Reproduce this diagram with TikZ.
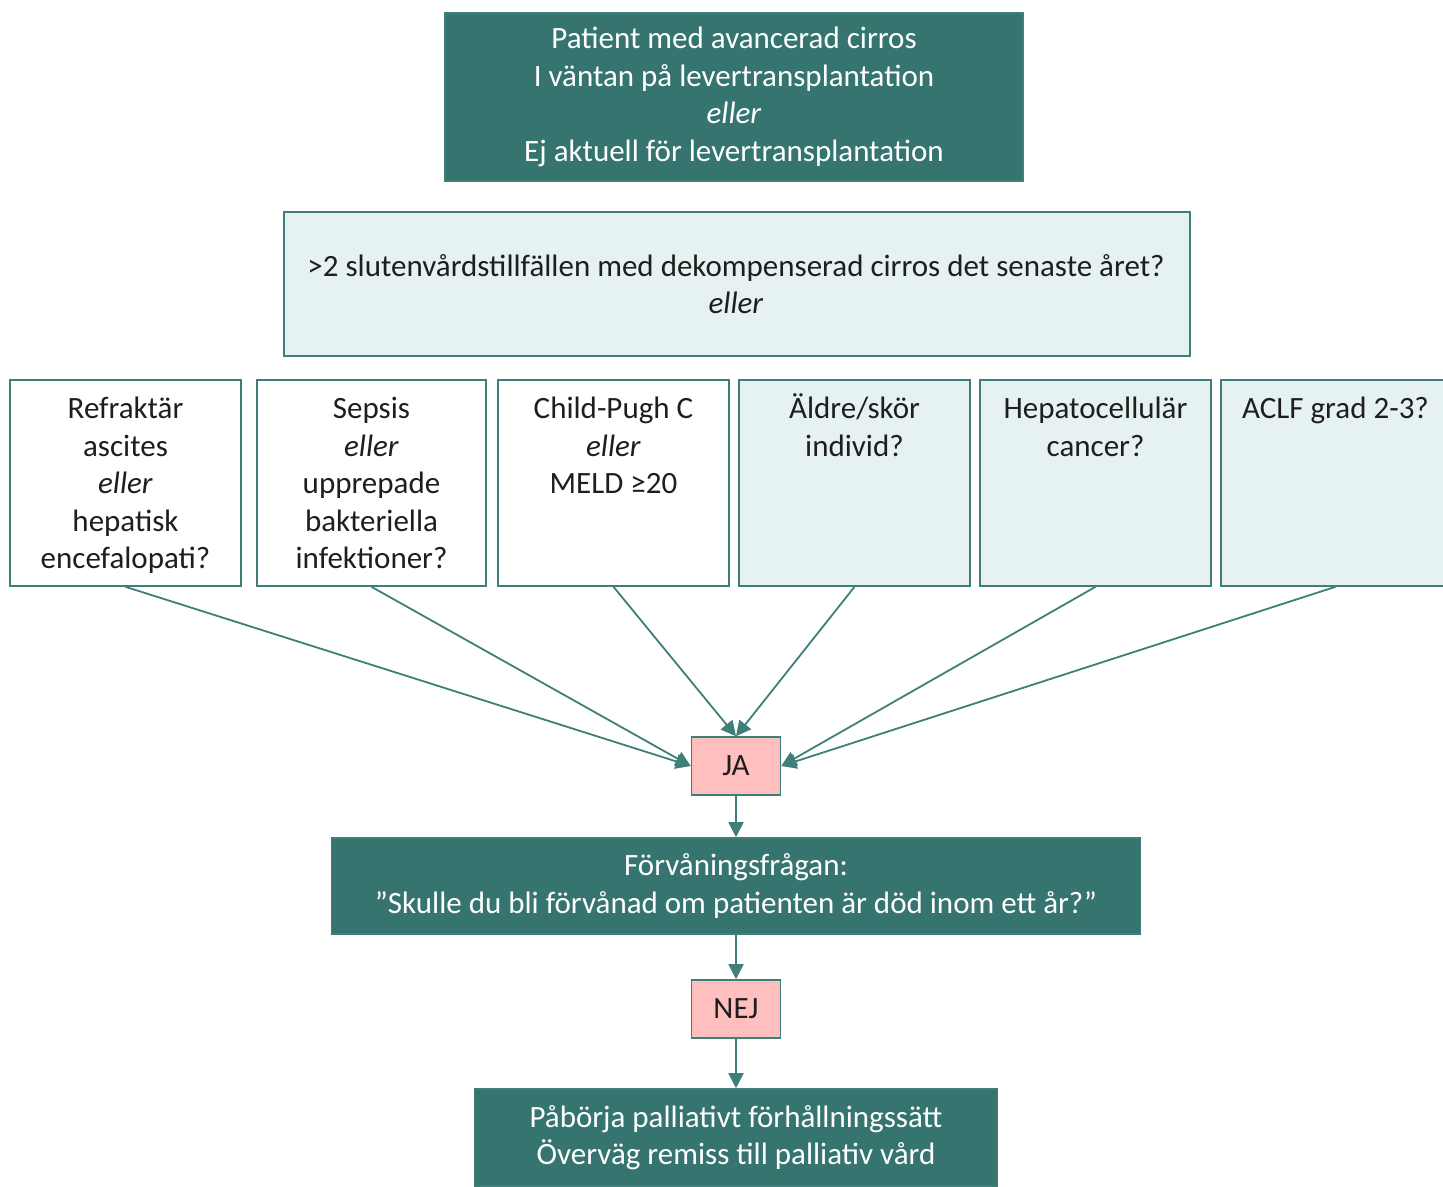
\documentclass[tikz,border=0pt]{standalone}
\usepackage{fontspec}
\setmainfont{Carlito}
\usetikzlibrary{arrows.meta}

\definecolor{darkteal}{HTML}{36756F}
\definecolor{edgeteal}{HTML}{3E7F79}
\definecolor{paleteal}{HTML}{E6F2F1}
\definecolor{answerpink}{HTML}{FFBFBF}
\definecolor{inktext}{HTML}{1E1E1E}

\tikzset{
  txt/.style={font=\fontsize{31}{37.5}\selectfont, align=center},
  headbox/.style={txt, draw=edgeteal, line width=1.6pt, fill=darkteal, text=white, inner sep=0pt},
  qbox/.style={draw=edgeteal, line width=1.6pt, fill=paleteal, inner sep=0pt},
  critbox/.style={draw=edgeteal, line width=1.6pt, inner sep=0pt, minimum height=206pt},
  crittext/.style={txt, text=inktext, anchor=north, inner sep=0pt},
  answer/.style={txt, draw=edgeteal, line width=1.6pt, fill=answerpink, text=inktext,
    minimum width=89pt, minimum height=58pt, inner sep=0pt},
  link/.style={draw=edgeteal, line width=1.8pt,
    -{Triangle[length=15pt,width=15pt]}},
}

\begin{document}
\begin{tikzpicture}[x=1pt,y=-1pt]
\useasboundingbox (0,0) rectangle (1443,1186);

% header
\node[headbox, minimum width=578pt, minimum height=168pt] (top) at (734,97)
  {Patient med avancerad cirros\\I väntan på levertransplantation\\\textit{eller}\\Ej aktuell för levertransplantation};

% question
\node[qbox, minimum width=906pt, minimum height=144pt] (q) at (737,284) {};
\node[txt, text=inktext, inner sep=0pt] (qt) at (736,284)
  {>2 slutenvårdstillfällen med dekompenserad cirros det senaste året?\\\textit{eller}};

% criteria boxes
\node[critbox, fill=white,    minimum width=231pt] (b1) at (125.5,483) {};
\node[critbox, fill=white,    minimum width=229pt] (b2) at (371.5,483) {};
\node[critbox, fill=white,    minimum width=231pt] (b3) at (613.5,483) {};
\node[critbox, fill=paleteal, minimum width=231pt] (b4) at (854.5,483) {};
\node[critbox, fill=paleteal, minimum width=231pt] (b5) at (1095.5,483) {};
\node[critbox, fill=paleteal, minimum width=229pt] (b6) at (1335.5,483) {};

% texts sit at the top of their boxes
\node[crittext] (t1) at ([yshift=-13pt]b1.north) {\strut Refraktär\\ascites\\\textit{eller}\\hepatisk\\encefalopati?};
\node[crittext] (t2) at ([yshift=-13pt]b2.north) {\strut Sepsis\\\textit{eller}\\upprepade\\bakteriella\\infektioner?};
\node[crittext] (t3) at ([yshift=-13pt]b3.north) {\strut Child-Pugh C\\\textit{eller}\\MELD ≥20};
\node[crittext] (t4) at ([yshift=-13pt]b4.north) {\strut Äldre/skör\\individ?};
\node[crittext] (t5) at ([yshift=-13pt]b5.north) {\strut Hepatocellulär\\cancer?};
\node[crittext] (t6) at ([yshift=-13pt]b6.north) {\strut ACLF grad 2-3?};

% answers and follow-up boxes
\node[answer] (ja) at (736,766) {JA};
\node[headbox, minimum width=809pt, minimum height=96pt] (surprise) at (736,886)
  {Förvåningsfrågan:\\”Skulle du bli förvånad om patienten är död inom ett år?”};
\node[answer] (nej) at (736,1009) {NEJ};
\node[headbox, minimum width=523pt, minimum height=97pt] (pall) at (736,1137.5)
  {Påbörja palliativt förhållningssätt\\Överväg remiss till palliativ vård};

% connectors
\draw[link] (b1.south) -- (ja.west);
\draw[link] (b2.south) -- (ja.west);
\draw[link] (b3.south) -- (ja.north);
\draw[link] (b4.south) -- (ja.north);
\draw[link] (b5.south) -- (ja.east);
\draw[link] (b6.south) -- (ja.east);
\draw[link] (ja.south) -- (surprise.north);
\draw[link] (surprise.south) -- (nej.north);
\draw[link] (nej.south) -- (pall.north);
\end{tikzpicture}
\end{document}
